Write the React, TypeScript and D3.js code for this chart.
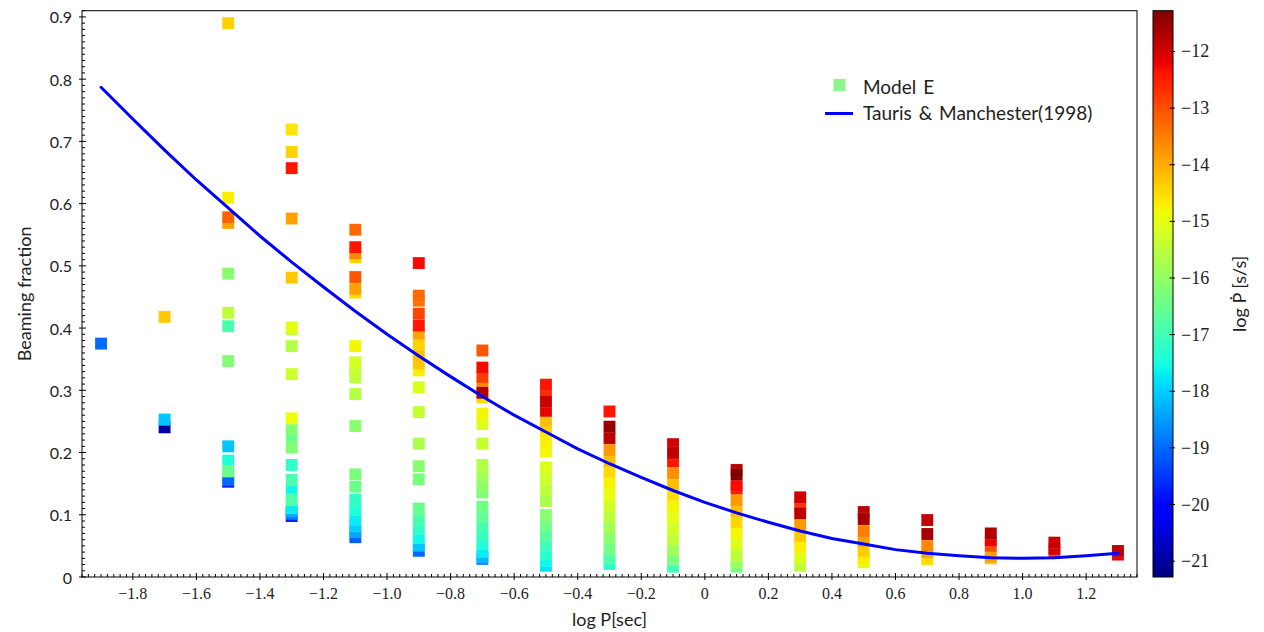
import React from 'react';
import * as d3 from 'd3';

// ---------- data ----------
const periods = [-1.9, -1.7, -1.5, -1.3, -1.1, -0.9, -0.7, -0.5, -0.3, -0.1, 0.1, 0.3, 0.5, 0.7, 0.9, 1.1, 1.3];

const fractions: number[][] = [
  [0.375],
  [0.418, 0.253, 0.2405],
  [0.890, 0.6095, 0.578, 0.569, 0.4875, 0.4245, 0.403, 0.347, 0.210, 0.187, 0.170, 0.157, 0.153],
  [0.719, 0.683, 0.657, 0.576, 0.481, 0.401, 0.398, 0.371, 0.326, 0.255, 0.238, 0.226, 0.208, 0.180, 0.156, 0.139, 0.124, 0.111, 0.106, 0.102, 0.098],
  [0.558, 0.530, 0.520, 0.514, 0.482, 0.463, 0.457, 0.371, 0.345, 0.331, 0.321, 0.294, 0.2426, 0.165, 0.145, 0.124, 0.108, 0.093, 0.082, 0.073, 0.064],
  [0.5045, 0.452, 0.444, 0.423, 0.404, 0.391, 0.374, 0.355, 0.343, 0.332, 0.305, 0.265, 0.2143, 0.178, 0.157, 0.110, 0.093, 0.078, 0.063, 0.051, 0.042],
  [0.364, 0.3365, 0.3215, 0.307, 0.296, 0.2885, 0.2624, 0.2458, 0.2143, 0.180, 0.165, 0.150, 0.136, 0.113, 0.098, 0.083, 0.068, 0.054, 0.041, 0.033, 0.029],
  [0.309, 0.293, 0.282, 0.267, 0.251, 0.2405, 0.228, 0.215, 0.2015, 0.176, 0.158, 0.140, 0.122, 0.0995, 0.084, 0.068, 0.052, 0.037, 0.026, 0.018],
  [0.266, 0.2415, 0.2233, 0.204, 0.1863, 0.1687, 0.151, 0.1333, 0.1157, 0.098, 0.0803, 0.0626, 0.045, 0.0305, 0.021],
  [0.2135, 0.1993, 0.1861, 0.1671, 0.1494, 0.1317, 0.1141, 0.0964, 0.0787, 0.061, 0.0434, 0.029, 0.0166],
  [0.172, 0.165, 0.147, 0.1425, 0.1237, 0.106, 0.0884, 0.0707, 0.053, 0.0353, 0.0241, 0.0166],
  [0.128, 0.1146, 0.1024, 0.0835, 0.0659, 0.0482, 0.0321, 0.0181],
  [0.1044, 0.0932, 0.0739, 0.0578, 0.0418, 0.029, 0.0236],
  [0.0915, 0.0691, 0.0498, 0.040, 0.0289],
  [0.070, 0.059, 0.050, 0.0326, 0.030],
  [0.0552, 0.045, 0.0386],
  [0.0418, 0.036],
];

const pdots: number[][] = [
  [-19.0],
  [-14.3, -18.1, -21.0],
  [-14.4, -14.7, -13.2, -13.9, -16.1, -15.5, -16.9, -16.2, -18.1, -17.4, -16.5, -19.0, -19.7],
  [-14.6, -14.4, -12.4, -13.9, -14.3, -15.0, -15.6, -15.6, -15.3, -14.9, -16.2, -16.5, -16.2, -17.2, -16.9, -17.6, -16.8, -17.7, -18.4, -18.9, -19.8],
  [-13.3, -12.4, -13.6, -14.4, -13.1, -13.9, -14.5, -14.8, -15.2, -15.4, -15.5, -15.6, -16.1, -16.3, -16.5, -17.2, -17.4, -17.7, -18.0, -18.4, -19.1],
  [-12.3, -13.3, -13.4, -12.9, -12.4, -13.9, -14.4, -14.2, -14.3, -14.7, -15.1, -15.4, -15.7, -16.1, -16.3, -16.5, -16.9, -17.2, -17.6, -18.1, -19.0],
  [-13.1, -12.3, -12.8, -13.6, -11.7, -14.5, -14.8, -15.1, -15.4, -15.6, -15.8, -16.0, -16.2, -16.4, -16.6, -16.9, -17.1, -17.4, -17.7, -18.2, -18.7],
  [-12.4, -12.6, -11.9, -12.2, -14.2, -14.4, -14.7, -14.75, -14.8, -15.1, -15.3, -15.5, -15.7, -16.1, -16.4, -16.7, -17.0, -17.3, -17.6, -17.8],
  [-12.4, -11.5, -11.8, -13.8, -14.2, -14.5, -14.75, -14.95, -15.2, -15.5, -15.8, -16.1, -16.4, -16.8, -17.3],
  [-12.0, -11.8, -12.4, -13.7, -14.2, -14.55, -14.8, -15.0, -15.2, -15.45, -15.85, -16.3, -17.0],
  [-11.8, -11.3, -12.3, -12.45, -13.8, -14.2, -14.45, -14.8, -15.1, -15.5, -15.9, -16.3],
  [-12.0, -12.7, -11.8, -13.8, -14.3, -14.7, -15.1, -15.5],
  [-11.8, -11.6, -13.5, -13.9, -14.35, -14.7, -15.0],
  [-11.9, -11.6, -13.6, -14.0, -14.5],
  [-11.7, -12.2, -13.0, -13.9, -14.3],
  [-11.9, -12.0, -12.9],
  [-11.8, -12.2],
];

// Tauris & Manchester (1998) curve
const curveLogP = [-1.9, -1.8, -1.7, -1.6, -1.5, -1.4, -1.3, -1.2, -1.1, -1.0, -0.9, -0.8, -0.7, -0.6, -0.5, -0.4, -0.3, -0.2, -0.1, 0.0, 0.1, 0.2, 0.3, 0.4, 0.5, 0.6, 0.7, 0.8, 0.9, 1.0, 1.1, 1.2, 1.3];
const curveFrac = [0.787, 0.736, 0.686, 0.638, 0.593, 0.548, 0.506, 0.466, 0.427, 0.390, 0.355, 0.322, 0.290, 0.260, 0.233, 0.206, 0.182, 0.160, 0.139, 0.120, 0.103, 0.088, 0.074, 0.062, 0.053, 0.044, 0.038, 0.034, 0.031, 0.030, 0.031, 0.034, 0.038];

const xTickValues = [-1.8, -1.6, -1.4, -1.2, -1.0, -0.8, -0.6, -0.4, -0.2, 0, 0.2, 0.4, 0.6, 0.8, 1.0, 1.2];
const yTickValues = [0, 0.1, 0.2, 0.3, 0.4, 0.5, 0.6, 0.7, 0.8, 0.9];
const cbTickValues = [-21, -20, -19, -18, -17, -16, -15, -14, -13, -12];

const legendLabels = ['Model E', 'Tauris & Manchester(1998)'];

// ---------- layout ----------
const W = 1264, H = 632;
const L = 82, R = 1137, T = 10.7, B = 577;
const CBL = 1153, CBR = 1173;

const x = d3.scaleLinear().domain([-1.96, 1.36]).range([L, R]);
const y = d3.scaleLinear().domain([0, 0.91]).range([B, T]);
const cb = d3.scaleLinear().domain([-21.28, -11.28]).range([B, T]);
const cNorm = d3.scaleLinear().domain([-21.28, -11.28]).range([0, 1]).clamp(true);

// matplotlib "jet"
const jetR = d3.scaleLinear().domain([0, 0.35, 0.66, 0.89, 1]).range([0, 0, 1, 1, 0.5]).clamp(true);
const jetG = d3.scaleLinear().domain([0, 0.125, 0.375, 0.64, 0.91, 1]).range([0, 0, 1, 1, 0, 0]).clamp(true);
const jetB = d3.scaleLinear().domain([0, 0.11, 0.34, 0.65, 1]).range([0.5, 1, 1, 0, 0]).clamp(true);
const jet = (t: number) => d3.rgb(jetR(t) * 255, jetG(t) * 255, jetB(t) * 255).formatHex();

const SANS = 'Lato, "DejaVu Sans", sans-serif';
const SERIF = '"Liberation Serif", "DejaVu Serif", serif';

const fmtX = (v: number) => (Math.abs(v) < 1e-9 ? '0' : (v < 0 ? '\u2212' : '') + Math.abs(v).toFixed(1));
const fmtY = (v: number) => (Math.abs(v) < 1e-9 ? '0' : v.toFixed(1));
const fmtCb = (v: number) => (v < 0 ? '\u2212' : '') + Math.abs(v).toString();

export default function App() {
  const points: { p: number; f: number; c: number }[] = [];
  periods.forEach((p, i) => {
    fractions[i].forEach((f, j) => points.push({ p, f, c: pdots[i][j] }));
  });
  points.sort((a, b) => a.c - b.c);

  const line = d3.line<number>().x((_, i) => x(curveLogP[i])).y((d) => y(d));
  const curvePath = line(curveFrac) || '';

  const xMinor = d3.range(-98, 69).filter((i) => i % 10 !== 0).map((i) => i * 0.02);
  const yMinor = d3.range(1, 92).filter((i) => i % 10 !== 0).map((i) => i * 0.01);

  const gradStops = d3.range(0, 101).map((i) => i / 100);
  const S = 12;

  return (
    <svg width={W} height={H} style={{ position: 'absolute', left: 0, top: 0, background: '#fff' }}>
      <defs>
        <linearGradient id="jetgrad" x1="0" y1="1" x2="0" y2="0">
          {gradStops.map((t) => (
            <stop key={t} offset={t} stopColor={jet(t)} />
          ))}
        </linearGradient>
        <clipPath id="plotclip">
          <rect x={L} y={T} width={R - L} height={B - T} />
        </clipPath>
      </defs>

      {/* markers */}
      <g clipPath="url(#plotclip)">
        {points.map((d, i) => (
          <rect
            key={i}
            x={x(d.p) - S / 2}
            y={y(d.f) - S / 2}
            width={S}
            height={S}
            fill={jet(cNorm(d.c))}
            stroke="#ffffff"
            strokeWidth={0.4}
            strokeOpacity={0.3}
          />
        ))}
        <path d={curvePath} fill="none" stroke="#0000ff" strokeWidth={3} strokeLinejoin="round" strokeLinecap="round" />
      </g>

      {/* frame */}
      <rect x={L} y={T} width={R - L} height={B - T} fill="none" stroke="#000" strokeWidth={1} />

      {/* ticks */}
      <g stroke="#000" strokeWidth={1}>
        {xMinor.map((v, i) => (
          <line key={'xm' + i} x1={x(v)} x2={x(v)} y1={B - 3} y2={B} />
        ))}
        {xTickValues.map((v, i) => (
          <line key={'xM' + i} x1={x(v)} x2={x(v)} y1={B - 4} y2={B + 3} />
        ))}
        {yMinor.map((v, i) => (
          <line key={'ym' + i} x1={L} x2={L + 3} y1={y(v)} y2={y(v)} />
        ))}
        {yTickValues.map((v, i) => (
          <line key={'yM' + i} x1={L - 3} x2={L + 4} y1={y(v)} y2={y(v)} />
        ))}
      </g>
      <g fontFamily={SERIF} fontSize={16} fill="#222">
        {xTickValues.map((v, i) => (
          <text key={'xl' + i} x={x(v)} y={599} textAnchor="middle">
            {fmtX(v)}
          </text>
        ))}
      </g>
      <g fontFamily={SANS} fontSize={16} fill="#222">
        {yTickValues.map((v, i) => (
          <text key={'yl' + i} x={72} y={y(v)} textAnchor="end" dominantBaseline="central">
            {fmtY(v)}
          </text>
        ))}
      </g>

      {/* axis labels */}
      <text x={(L + R) / 2} y={626} textAnchor="middle" fontFamily={SANS} fontSize={18} fill="#222">
        log P[sec]
      </text>
      <text
        transform={`translate(31,${(T + B) / 2}) rotate(-90)`}
        textAnchor="middle"
        fontFamily={SANS}
        fontSize={18}
        fill="#222"
      >
        Beaming fraction
      </text>

      {/* legend */}
      <rect x={833.5} y={79} width={12} height={12} fill="#8ef58e" />
      <text x={863} y={86} dominantBaseline="central" fontFamily={SANS} fontSize={19} wordSpacing={2} fill="#222">
        {legendLabels[0]}
      </text>
      <line x1={825} x2={853} y1={113.5} y2={113.5} stroke="#0000ff" strokeWidth={3} />
      <text x={863} y={112} dominantBaseline="central" fontFamily={SANS} fontSize={19} wordSpacing={2} fill="#222">
        {legendLabels[1]}
      </text>

      {/* colorbar */}
      <rect x={CBL} y={T} width={CBR - CBL} height={B - T} fill="url(#jetgrad)" stroke="#000" strokeWidth={1} />
      <g stroke="#000" strokeWidth={1}>
        {cbTickValues.map((v, i) => (
          <line key={'cbt' + i} x1={CBR - 3.5} x2={CBR + 2} y1={cb(v)} y2={cb(v)} />
        ))}
      </g>
      <g fontFamily={SERIF} fontSize={18} fill="#222">
        {cbTickValues.map((v, i) => (
          <text key={'cbl' + i} x={1181} y={cb(v)} dominantBaseline="central">
            {fmtCb(v)}
          </text>
        ))}
      </g>
      <text
        transform={`translate(1246,${(T + B) / 2}) rotate(-90)`}
        textAnchor="middle"
        fontFamily={SANS}
        fontSize={18}
        fill="#222"
      >
        log {'\u1E56'} [s/s]
      </text>
    </svg>
  );
}
